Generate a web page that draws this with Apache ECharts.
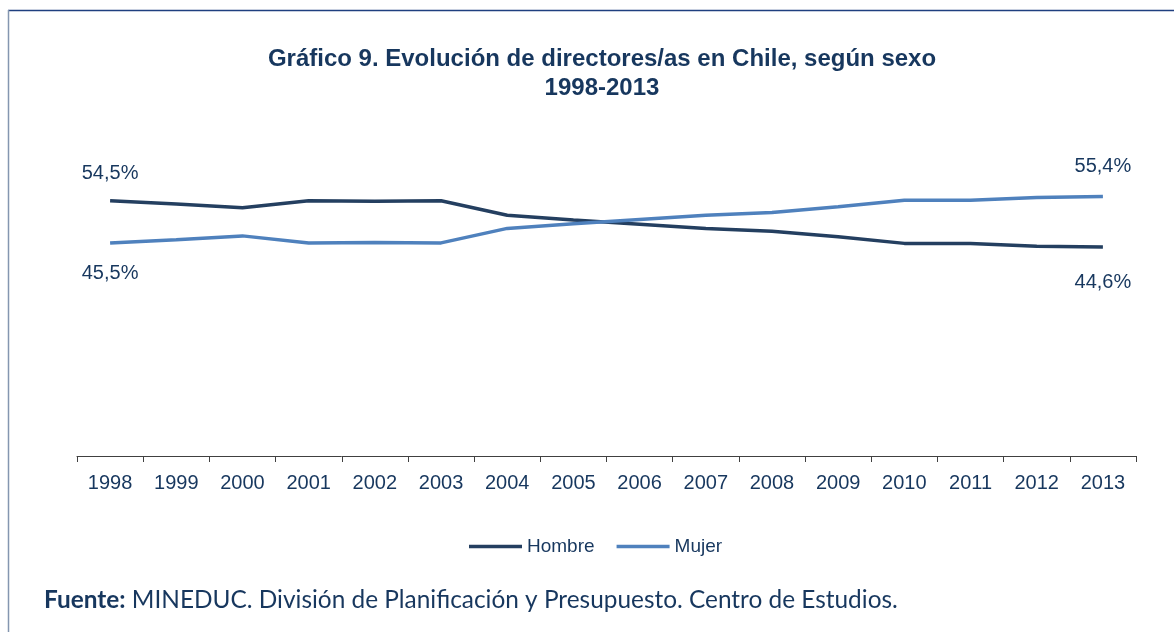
<!DOCTYPE html>
<html>
<head>
<meta charset="utf-8">
<title>Gráfico 9</title>
<script src="https://cdn.jsdelivr.net/npm/echarts@6/dist/echarts.min.js"></script>
<style>
  html, body { margin: 0; padding: 0; background: #fff; }
  #chart { width: 1174px; height: 632px; }
</style>
</head>
<body>
<div id="chart"></div>
<script>
// datos
var years = ["1998", "1999", "2000", "2001", "2002", "2003", "2004", "2005",
             "2006", "2007", "2008", "2009", "2010", "2011", "2012", "2013"];
var hombre = [54.5, 53.8, 53.0, 54.5, 54.4, 54.5, 51.4, 50.4, 49.5, 48.6, 48.0, 46.8, 45.4, 45.4, 44.8, 44.6];
var mujer  = [45.5, 46.2, 47.0, 45.5, 45.6, 45.5, 48.6, 49.6, 50.5, 51.4, 52.0, 53.2, 54.6, 54.6, 55.2, 55.4];

var textColor = "#17375e";

//formato con coma decimal
function pct(v) {
    return v.toFixed(1).replace(".", ",") + "%";
}

//solo el primer y último punto llevan etiqueta
function withLabels(values, firstPos, lastPos) {
    var last = values.length - 1;
    return values.map(function(v, i) {
        if (i === 0 || i === last) {
            var pos = i === 0 ? firstPos : lastPos;
            var dist = pos === "top" ? (i === 0 ? 17 : 20) : (i === 0 ? 21 : 25);
            return {
                value: v,
                label: {
                    show: true,
                    position: pos,
                    distance: dist,
                    formatter: function(p) { return pct(p.value); },
                    color: textColor,
                    fontSize: 20,
                    fontFamily: "Liberation Sans, Arial, sans-serif"
                }
            };
        }
        return v;
    });
}

var myChart = echarts.init(document.getElementById("chart"));

var option = {
    backgroundColor: "#fff",
    animation: false,
    title: [{
        text: "Gráfico 9. Evolución de directores/as en Chile, según sexo\n1998-2013",
        left: 597,
        top: 40,
        textAlign: "center",
        textStyle: {
            color: textColor,
            fontSize: 24,
            fontWeight: "bold",
            fontFamily: "Liberation Sans Narrow, Liberation Sans, Arial, sans-serif",
            lineHeight: 29
        }
    }, {
        text: "{b|Fuente:} MINEDUC. División de Planificación y Presupuesto. Centro de Estudios.",
        left: 39,
        top: 583,
        textStyle: {
            color: textColor,
            fontSize: 24.4,
            fontWeight: "normal",
            fontFamily: "Lato, Open Sans, sans-serif",
            rich: {
                b: { fontSize: 24.4, fontWeight: "bold", fontFamily: "Lato, Open Sans, sans-serif", color: textColor }
            }
        }
    }],
    legend: {
        data: [
            { name: "Hombre", itemStyle: { color: "#243f60" } },
            { name: "Mujer", itemStyle: { color: "#4f81bd" } }
        ],
        left: 464,
        top: 532,
        icon: "rect",
        itemWidth: 53,
        itemHeight: 3.5,
        itemGap: 22,
        textStyle: {
            color: textColor,
            fontSize: 19,
            fontFamily: "Liberation Sans, Arial, sans-serif"
        }
    },
    grid: {
        left: 77,
        right: 38,
        top: 175,
        bottom: 176
    },
    xAxis: {
        type: "category",
        data: years,
        boundaryGap: true,
        axisLine: { lineStyle: { color: "#404040", width: 1 } },
        axisTick: { show: true, length: 6, lineStyle: { color: "#404040" } },
        axisLabel: {
            color: textColor,
            fontSize: 20,
            margin: 17,
            fontFamily: "Liberation Sans, Arial, sans-serif"
        }
    },
    yAxis: {
        type: "value",
        min: 0,
        max: 60,
        show: false,
        splitLine: { show: false }
    },
    series: [{
        name: "Hombre",
        type: "line",
        data: withLabels(hombre, "top", "bottom"),
        symbol: "circle",
        symbolSize: 0.1,
        showSymbol: true,
        lineStyle: { color: "#243f60", width: 3.5 },
        itemStyle: { color: "#243f60" }
    }, {
        name: "Mujer",
        type: "line",
        data: withLabels(mujer, "bottom", "top"),
        symbol: "circle",
        symbolSize: 0.1,
        showSymbol: true,
        lineStyle: { color: "#4f81bd", width: 3.5 },
        itemStyle: { color: "#4f81bd" }
    }],
    graphic: [{
        type: "line",
        shape: { x1: 8, y1: 10.5, x2: 1174, y2: 10.5 },
        style: { stroke: "#1f3f7f", lineWidth: 1.5 }
    }, {
        type: "line",
        shape: { x1: 8.5, y1: 10, x2: 8.5, y2: 632 },
        style: { stroke: "#8496b0", lineWidth: 1.5 }
    }]
};

myChart.setOption(option);
</script>
</body>
</html>
